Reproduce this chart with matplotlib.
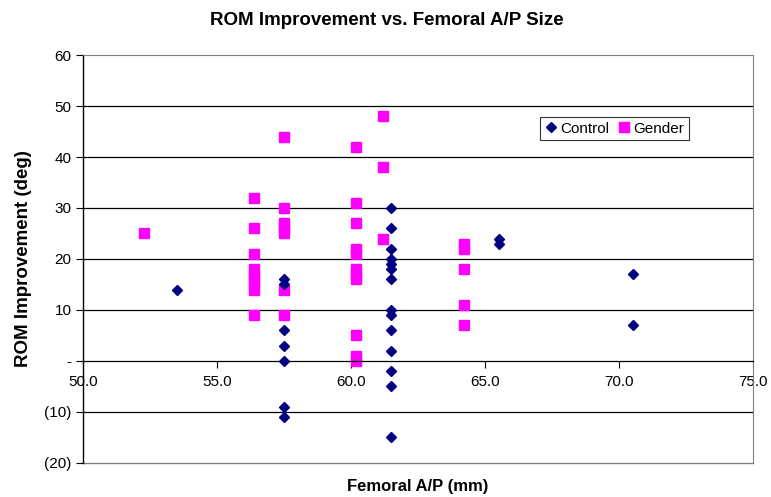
import matplotlib.pyplot as plt
from matplotlib.ticker import FuncFormatter

plt.rcParams['font.family'] = ['Liberation Sans', 'DejaVu Sans']

# Control group (femoral A/P in mm, ROM improvement in deg)
control_x = [53.5,
             57.5, 57.5, 57.5, 57.5, 57.5, 57.5, 57.5,
             61.5, 61.5, 61.5, 61.5, 61.5, 61.5, 61.5, 61.5, 61.5, 61.5, 61.5, 61.5, 61.5, 61.5,
             65.5, 65.5,
             70.5, 70.5]
control_y = [14,
             16, 15, 6, 3, 0, -9, -11,
             30, 26, 22, 20, 19, 18, 16, 10, 9, 6, 2, -2, -5, -15,
             24, 23,
             17, 7]

# Gender group
gender_x = [52.3,
            56.4, 56.4, 56.4, 56.4, 56.4, 56.4, 56.4, 56.4, 56.4,
            57.5, 57.5, 57.5, 57.5, 57.5, 57.5, 57.5,
            60.2, 60.2, 60.2, 60.2, 60.2, 60.2, 60.2, 60.2, 60.2, 60.2, 60.2,
            61.2, 61.2, 61.2,
            64.2, 64.2, 64.2, 64.2, 64.2]
gender_y = [25,
            32, 26, 21, 18, 17, 16, 15, 14, 9,
            44, 30, 27, 26, 25, 14, 9,
            42, 31, 27, 22, 21, 18, 17, 16, 5, 1, 0,
            48, 38, 24,
            23, 22, 18, 11, 7]


def paren_fmt(v, pos):
    if v == 0:
        return '-'
    if v < 0:
        return '(%d)' % abs(v)
    return '%d' % v


fig = plt.figure(figsize=(7.71, 4.97), dpi=100)
ax = fig.add_axes([0.1073, 0.069, 0.870, 0.820])

ax.set_xlim(50, 75)
ax.set_ylim(-20, 60)
ax.set_yticks(range(-20, 61, 10))
ax.set_xticks([50, 55, 60, 65, 70, 75])
ax.xaxis.set_major_formatter(FuncFormatter(lambda v, p: '%.1f' % v))
ax.yaxis.set_major_formatter(FuncFormatter(paren_fmt))

for yv in [50, 40, 30, 20, 10, -10]:
    ax.axhline(yv, color='black', lw=0.9, zorder=1)

ax.spines['bottom'].set_position(('data', 0))
ax.spines['bottom'].set_color('black')
ax.spines['bottom'].set_linewidth(0.9)
ax.spines['left'].set_color('black')
ax.spines['left'].set_linewidth(1.0)
ax.spines['top'].set_color('#808080')
ax.spines['right'].set_color('#808080')
ax.axhline(-20, color='#808080', lw=1.0, clip_on=False, zorder=1)

ax.plot(control_x, control_y, linestyle='none', marker='D', markersize=5.2,
        color='#000080', label='Control', zorder=3)
ax.plot(gender_x, gender_y, linestyle='none', marker='s', markersize=7.8,
        color='#FF00FF', label='Gender', zorder=2)

ax.tick_params(axis='y', direction='out', length=5, pad=3, labelsize=11)
ax.tick_params(axis='x', direction='out', length=5, pad=5, labelsize=11)

ax.set_title('ROM Improvement vs. Femoral A/P Size', fontsize=13.5, fontweight='bold',
             pad=22, x=0.453)
ax.set_xlabel('Femoral A/P (mm)', fontsize=12, fontweight='bold')
ax.xaxis.set_label_coords(0.5, -0.04)
ax.set_ylabel('ROM Improvement (deg)', fontsize=13.5, fontweight='bold', labelpad=9)

leg = ax.legend(loc='upper left', bbox_to_anchor=(0.682, 0.848), borderaxespad=0,
                ncol=2, fontsize=11, frameon=True, fancybox=False, handlelength=0.8,
                handletextpad=0.2, columnspacing=0.6, borderpad=0.3, markerscale=0.9)
leg.get_frame().set_edgecolor('black')
leg.get_frame().set_linewidth(0.8)

fig.savefig('out.png', dpi=100)
